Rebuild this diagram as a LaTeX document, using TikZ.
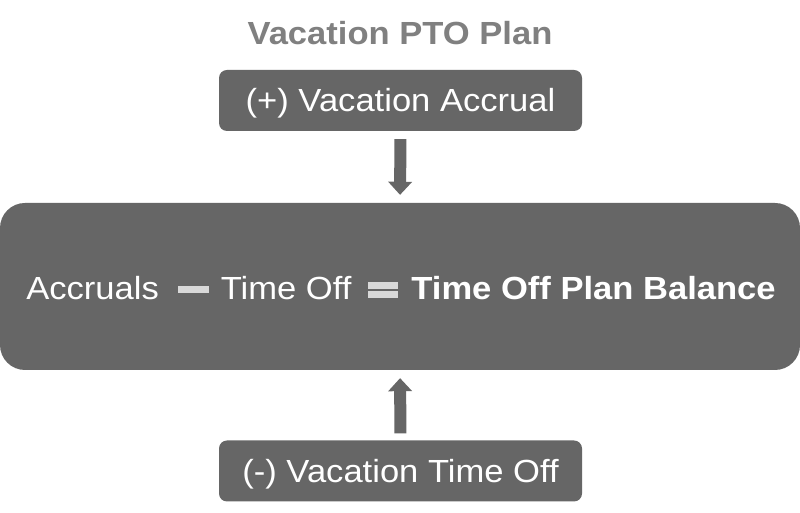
\documentclass[tikz,border=0pt]{standalone}
\usepackage{fontspec}
\setmainfont[FakeStretch=1.08]{Liberation Sans}
\usetikzlibrary{arrows.meta}
\definecolor{boxgray}{HTML}{666666}
\definecolor{titlegray}{HTML}{808080}
\definecolor{signgray}{HTML}{D9D9D9}
\begin{document}
\begin{tikzpicture}[x=1pt,y=1pt,
  bigfont/.style={font=\fontsize{32}{38}\selectfont},
  smallbox/.style={fill=boxgray, rounded corners=8pt, minimum width=363pt, minimum height=61pt, inner sep=0pt, text=white, bigfont, text depth=0pt},
  flowarrow/.style={draw=boxgray, line width=12pt, shorten <=8pt, shorten >=8pt,
     -{Triangle[width=24pt,length=13pt,line width=0pt]}}
]
\useasboundingbox (0,0) rectangle (800,513);
\fill[white] (0,0) rectangle (800,513);
\node[font=\fontsize{32}{38}\selectfont\bfseries, text=titlegray, anchor=base, inner sep=0pt] (title) at (400,468.7) {Vacation PTO Plan};
\node[smallbox, text height=23pt] (accr) at (400.5,412.5) {(+) Vacation Accrual};
\node[fill=boxgray, rounded corners=25pt, minimum width=800pt, minimum height=167pt, inner sep=0pt] (big) at (400,226.5) {};
\node[smallbox, text height=24pt] (off) at (400.5,42) {(-) Vacation Time Off};
\node[bigfont, text=white, anchor=base, inner sep=0pt] (eq) at (401,213)
 {Accruals\hspace{19pt}{\color{signgray}\rule[7pt]{31pt}{7pt}}\hspace{12pt}Time Off\hspace{17pt}{\color{signgray}\rlap{\rule[11pt]{30pt}{7pt}}\rule[2pt]{30pt}{7pt}}\hspace{13pt}\textbf{Time Off Plan Balance}};
\draw[flowarrow] (accr.south) -- (big.north);
\draw[flowarrow, shorten <=7pt] (off.north) -- (big.south);
\end{tikzpicture}
\end{document}
